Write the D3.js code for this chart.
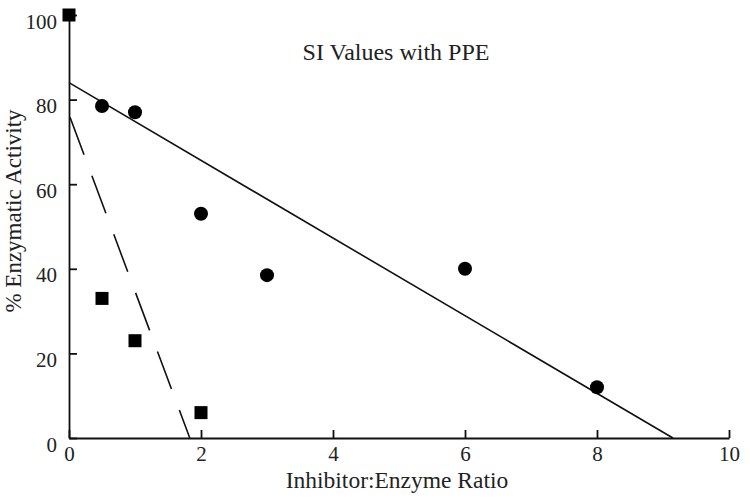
<!DOCTYPE html>
<html>
<head>
  <meta charset="utf-8">
  <style>
    body { margin: 0; background: #fff; }
  </style>
</head>
<body>
  <script src="https://cdn.jsdelivr.net/npm/d3@7"></script>
  <script>
    // data
    var circleX = [0.5, 1, 2, 3, 6, 8];
    var circleY = [78.5, 77, 53, 38.5, 40, 12];
    var squareX = [0, 0.5, 1, 2];
    var squareY = [100, 33, 23, 6];
    var solidFit = [[0, 84], [9.15, 0]];
    var dashedFit = [[0, 76.5], [1.83, 0]];
    var xTicks = [0, 2, 4, 6, 8, 10];
    var yTicks = [0, 20, 40, 60, 80, 100];

    var width = 750, height = 500;
    var serif = "'Liberation Serif'";

    var svg = d3.select("body").append("svg")
      .attr("width", width)
      .attr("height", height);

    var x = d3.scaleLinear().domain([0, 10]).range([69, 729]);
    var y = d3.scaleLinear().domain([0, 100]).range([438, 15]);

    // x axis, ticks point inward
    var gx = svg.append("g")
      .attr("transform", "translate(0," + y(0) + ")")
      .call(d3.axisBottom(x).tickValues(xTicks).tickSizeInner(-8).tickSizeOuter(0).tickPadding(8));

    // y axis
    var gy = svg.append("g")
      .attr("transform", "translate(" + x(0) + ",0)")
      .call(d3.axisLeft(y).tickValues(yTicks).tickSizeInner(-8).tickSizeOuter(0).tickPadding(12));

    gx.selectAll("text").attr("dy", "0.7em");
    gy.selectAll("text").attr("dy", "0.62em");

    svg.selectAll(".domain").attr("stroke", "#111").attr("stroke-width", 1.8);
    svg.selectAll(".tick line").attr("stroke", "#111").attr("stroke-width", 1.8);
    svg.selectAll(".tick text")
      .attr("fill", "#222")
      .style("font-family", serif)
      .style("font-size", "21px");

    // fitted lines
    var line = d3.line().x(function(d) { return x(d[0]); }).y(function(d) { return y(d[1]); });
    svg.append("path").datum(solidFit)
      .attr("d", line)
      .attr("fill", "none").attr("stroke", "#111").attr("stroke-width", 1.6);
    svg.append("path").datum(dashedFit)
      .attr("d", line)
      .attr("fill", "none").attr("stroke", "#111").attr("stroke-width", 1.6)
      .attr("stroke-dasharray", "40,22.5")
      .attr("stroke-dashoffset", 59.5);

    // circles
    svg.selectAll("circle.pt")
      .data(d3.zip(circleX, circleY))
      .enter().append("circle")
      .attr("class", "pt")
      .attr("cx", function(d) { return x(d[0]); })
      .attr("cy", function(d) { return y(d[1]); })
      .attr("r", 7)
      .attr("fill", "#000");

    // squares
    var s = 13;
    svg.selectAll("rect.pt")
      .data(d3.zip(squareX, squareY))
      .enter().append("rect")
      .attr("class", "pt")
      .attr("x", function(d) { return x(d[0]) - s / 2; })
      .attr("y", function(d) { return y(d[1]) - s / 2; })
      .attr("width", s)
      .attr("height", s)
      .attr("fill", "#000");

    // labels
    function label(t, tr, size) {
      return svg.append("text")
        .attr("transform", tr)
        .attr("text-anchor", "middle")
        .attr("fill", "#222")
        .style("font-family", serif)
        .style("font-size", size + "px")
        .text(t);
    }
    label("SI Values with PPE", "translate(396,60)", 24);
    label("Inhibitor:Enzyme Ratio", "translate(397,488)", 23.5);
    label("% Enzymatic Activity", "translate(21,211) rotate(-90)", 23);
  </script>
</body>
</html>
